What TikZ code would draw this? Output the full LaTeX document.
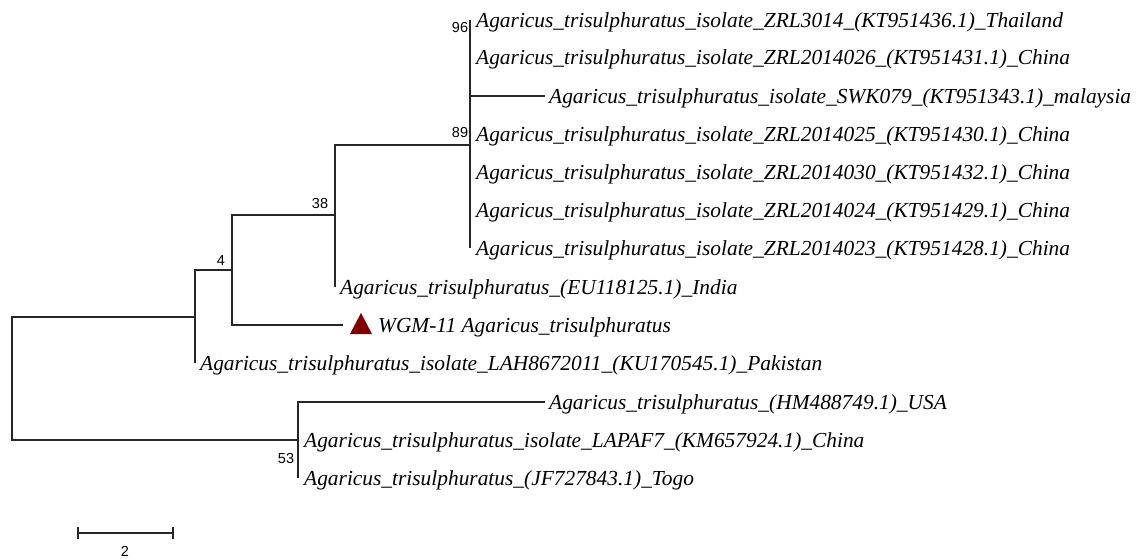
\documentclass[tikz,border=0pt]{standalone}
\usepackage{fontspec}
\setmainfont{Liberation Serif}
\newfontfamily\numfont{Liberation Sans}
\definecolor{trired}{RGB}{128,0,0}
\begin{document}
\begin{tikzpicture}[x=1pt,y=-1pt,
  leaf/.style={anchor=west, inner sep=0pt, yshift=-2pt, font=\fontsize{21.4}{24}\selectfont\itshape},
  br/.style={line width=1.2pt, draw=black!85},
  bs/.style={inner sep=0pt, font=\numfont\fontsize{14.5}{16}\selectfont}]
\useasboundingbox (0,0) rectangle (1146,559);
% internal nodes
\coordinate (nR) at (12,378);
\coordinate (nA) at (195,317);
\coordinate (n4) at (232,270);
\coordinate (n38) at (335,215);
\coordinate (n89) at (470,145);
\coordinate (n53) at (298,440);
% tips
\coordinate (t1) at (470,20);
\coordinate (t2) at (470,57);
\coordinate (t3) at (545,96);
\coordinate (t4) at (470,134);
\coordinate (t5) at (470,172);
\coordinate (t6) at (470,210);
\coordinate (t7) at (470,248);
\coordinate (tInd) at (335,287);
\coordinate (tWGM) at (343,325);
\coordinate (tPak) at (195,363);
\coordinate (tUSA) at (545,402);
\coordinate (tLap) at (298,440);
\coordinate (tTogo) at (298,478);
% branches
\draw[br] (nR) |- (nA);
\draw[br] (nR) |- (n53);
\draw[br] (nA) |- (n4);
\draw[br] (nA) |- (tPak);
\draw[br] (n4) |- (n38);
\draw[br] (n4) |- (tWGM);
\draw[br] (n38) |- (n89);
\draw[br] (n38) |- (tInd);
\draw[br] (n89) |- (t1);
\draw[br] (n89) |- (t7);
\draw[br] (n89) |- (t3);
\draw[br] (n53) |- (tUSA);
\draw[br] (n53) |- (tLap);
\draw[br] (n53) |- (tTogo);
% leaf labels
\node[leaf] (L1) at ([xshift=6pt]t1) {Agaricus\_trisulphuratus\_isolate\_ZRL3014\_(KT951436.1)\_Thailand};
\node[leaf] (L2) at ([xshift=6pt]t2) {Agaricus\_trisulphuratus\_isolate\_ZRL2014026\_(KT951431.1)\_China};
\node[leaf] (L3) at ([xshift=4pt]t3) {Agaricus\_trisulphuratus\_isolate\_SWK079\_(KT951343.1)\_malaysia};
\node[leaf] (L4) at ([xshift=6pt]t4) {Agaricus\_trisulphuratus\_isolate\_ZRL2014025\_(KT951430.1)\_China};
\node[leaf] (L5) at ([xshift=6pt]t5) {Agaricus\_trisulphuratus\_isolate\_ZRL2014030\_(KT951432.1)\_China};
\node[leaf] (L6) at ([xshift=6pt]t6) {Agaricus\_trisulphuratus\_isolate\_ZRL2014024\_(KT951429.1)\_China};
\node[leaf] (L7) at ([xshift=6pt]t7) {Agaricus\_trisulphuratus\_isolate\_ZRL2014023\_(KT951428.1)\_China};
\node[leaf] (LInd) at ([xshift=5pt]tInd) {Agaricus\_trisulphuratus\_(EU118125.1)\_India};
\fill[trired] ([xshift=7pt,yshift=-9pt]tWGM) -- ([xshift=29pt,yshift=-9pt]tWGM) -- ([xshift=18pt,yshift=12pt]tWGM) -- cycle;
\node[leaf] (LWGM) at ([xshift=35pt]tWGM) {WGM-11 Agaricus\_trisulphuratus};
\node[leaf] (LPak) at ([xshift=5pt]tPak) {Agaricus\_trisulphuratus\_isolate\_LAH8672011\_(KU170545.1)\_Pakistan};
\node[leaf] (LUSA) at ([xshift=4pt]tUSA) {Agaricus\_trisulphuratus\_(HM488749.1)\_USA};
\node[leaf] (LLap) at ([xshift=6pt]tLap) {Agaricus\_trisulphuratus\_isolate\_LAPAF7\_(KM657924.1)\_China};
\node[leaf] (LTogo) at ([xshift=6pt]tTogo) {Agaricus\_trisulphuratus\_(JF727843.1)\_Togo};
% bootstrap values
\node[bs] (b96) at (460,28) {96};
\node[bs] (b89) at (460,133) {89};
\node[bs] (b38) at (320,204) {38};
\node[bs] (b4) at (221,261) {4};
\node[bs] (b53) at (286,459) {53};
% scale bar
\coordinate (s1) at (78,533);
\coordinate (s2) at (173,533);
\draw[line width=1.2pt, draw=black!85] (s1) -- (s2);
\draw[line width=1.2pt, draw=black!85] ([yshift=-6pt]s1) -- ([yshift=6pt]s1);
\draw[line width=1.2pt, draw=black!85] ([yshift=-6pt]s2) -- ([yshift=6pt]s2);
\node[bs] (sl) at (125,551) {2};
\end{tikzpicture}
\end{document}
